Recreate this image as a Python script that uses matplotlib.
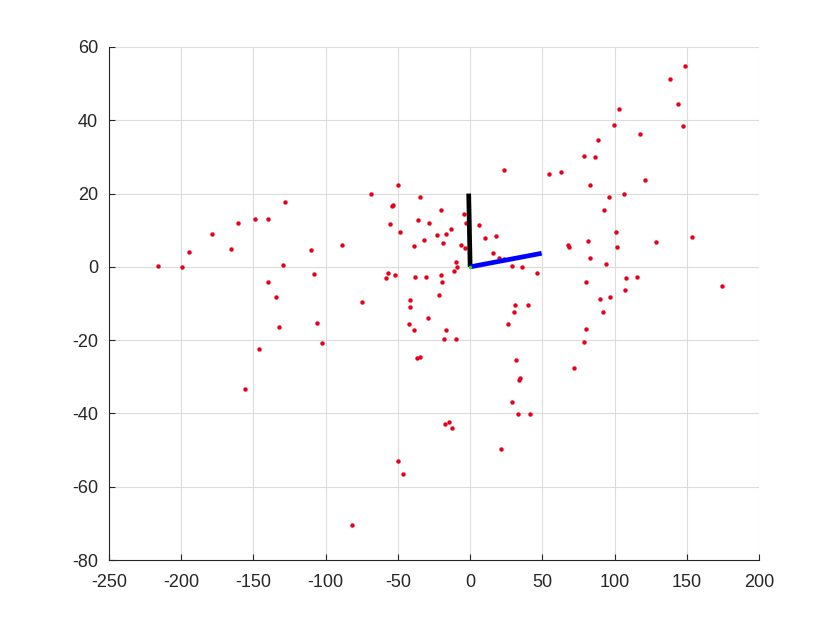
import numpy as np
import matplotlib
matplotlib.use('Agg')
import matplotlib.pyplot as plt

# --- datos ---
pts_x = [-215.8, -199.2, -194.6, -178.5, -165.5, -160.5, -148.9, -139.9, -127.9, -129.3,
         -110.1, -108.3, -140.1, -134.2, -132.5, -106.2, -146.4, -102.8, -155.6,
         -88.5, -74.8, -81.6, -68.8, -50.1, -54.3, -53.4, -55.5, -48.5, -34.5, -19.9,
         -36.1, -28.7, -4.2, -3.1, -13.2, -16.5, -22.9, -31.9, -19.0, -39.0,
         -6.6, -3.8, -9.8, -9.1, -11.0, -56.6, -58.4, -52.2, -38.4, -30.3,
         -20.0, -19.3, -21.5, -41.8, -41.6, -29.4, -42.5, -39.0, -16.5, -18.1,
         -9.6, -36.6, -34.5, -17.2, -14.9, -12.8, -49.7, -46.5,
         23.3, 6.2, 10.5, 18.1, 15.6, 19.7, 23.2, 29.0, 36.0, 46.5,
         30.9, 40.1, 30.4, 26.2, 32.0, 34.8, 33.8, 29.0, 33.0, 41.7, 21.2,
         148.6, 138.4, 144.0, 103.3, 99.4, 147.4, 117.8, 88.3, 78.6, 86.3,
         54.6, 62.9, 82.8, 120.9, 96.0, 106.3, 92.9, 101.2, 81.6, 68.0,
         68.3, 128.9, 153.6, 101.5, 83.2, 94.4, 80.4, 107.7, 115.6, 107.0,
         174.6, 89.6, 96.9, 92.2, 80.1, 78.7, 72.1]
pts_y = [0.3, -0.1, 4.0, 8.9, 5.0, 11.9, 13.1, 13.1, 17.6, 0.6,
         4.6, -2.0, -4.1, -8.2, -16.5, -15.2, -22.5, -20.8, -33.3,
         6.0, -9.7, -70.5, 19.8, 22.3, 16.6, 16.9, 11.7, 9.4, 19.1, 15.6,
         12.9, 12.0, 14.3, 12.1, 10.2, 9.1, 8.6, 7.3, 6.5, 5.7,
         6.0, 5.2, 1.4, -0.1, -1.0, -1.8, -3.0, -2.2, -2.7, -2.9,
         -2.1, -4.2, -7.7, -9.0, -11.0, -14.0, -15.5, -17.3, -17.3, -19.7,
         -19.7, -24.8, -24.5, -43.0, -42.3, -44.1, -53.1, -56.4,
         26.3, 11.3, 7.8, 8.4, 3.9, 2.4, 2.2, 0.2, 0.0, -1.7,
         -10.3, -10.3, -12.2, -15.7, -25.4, -30.2, -30.9, -36.8, -40.2, -40.2, -49.8,
         54.7, 51.3, 44.5, 43.0, 38.8, 38.4, 36.2, 34.6, 30.2, 30.1,
         25.3, 25.9, 22.4, 23.6, 19.1, 19.8, 15.5, 9.4, 7.1, 6.1,
         5.3, 6.8, 8.1, 5.4, 2.4, 0.9, -4.1, -3.0, -2.7, -6.2,
         -5.3, -8.9, -8.2, -12.4, -17.0, -20.4, -27.7]

# segmentos desde el origen
eje_negro_x = [0, -1.0]
eje_negro_y = [0, 20.0]
eje_azul_x = [0, 49.5]
eje_azul_y = [0, 3.7]

xticks = [-250, -200, -150, -100, -50, 0, 50, 100, 150, 200]
yticks = [-80, -60, -40, -20, 0, 20, 40, 60]

plt.rcParams['font.family'] = ['Liberation Sans', 'DejaVu Sans']
plt.rcParams['axes.unicode_minus'] = False

fig = plt.figure(figsize=(8.4, 6.3), dpi=100)
ax = fig.add_axes([0.1298, 0.1111, 0.7738, 0.8143])

ax.plot(pts_x, pts_y, 'o', color='#e8001c', markersize=3.2, markeredgewidth=0, zorder=3)
ax.plot(eje_negro_x, eje_negro_y, color='black', lw=3.4, solid_capstyle='butt', zorder=4)
ax.plot(eje_azul_x, eje_azul_y, color='blue', lw=3.4, solid_capstyle='butt', zorder=4)
ax.plot([0], [0], 'o', color='#33cc33', markersize=2.5, markeredgewidth=0, zorder=5)

ax.set_xlim(-250, 200)
ax.set_ylim(-80, 60)
ax.set_xticks(xticks)
ax.set_yticks(yticks)
ax.grid(True, color='#dcdcdc', lw=0.8)
ax.set_axisbelow(True)

for s in ['top', 'right']:
    ax.spines[s].set_visible(False)
for s in ['left', 'bottom']:
    ax.spines[s].set_color('#262626')
    ax.spines[s].set_linewidth(0.8)
ax.tick_params(direction='in', length=4, width=0.8, colors='#262626',
               labelsize=13, labelcolor='#262626')
ax.tick_params(axis='x', pad=10)
ax.tick_params(axis='y', pad=8)

fig.savefig('out.png', dpi=100)
